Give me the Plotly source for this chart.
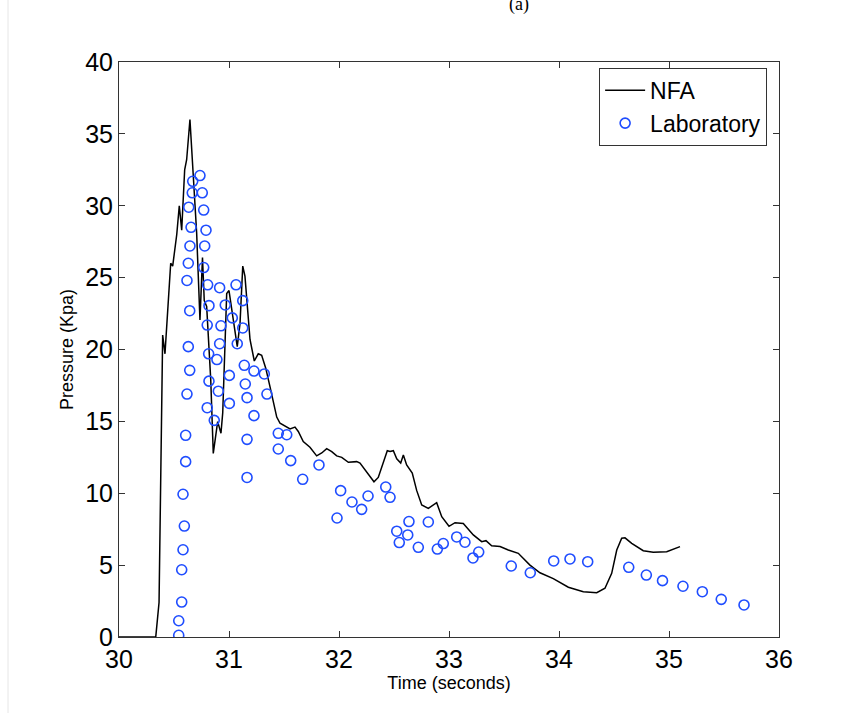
import plotly.graph_objects as go

# NFA simulated pressure (time in s, pressure in kPa)
nfa_t = [30.0, 30.334, 30.364, 30.379, 30.397, 30.418, 30.47, 30.488, 30.525, 30.548,
         30.57, 30.597, 30.615, 30.645, 30.67, 30.706, 30.736, 30.759, 30.775, 30.797,
         30.834, 30.857, 30.897, 30.927, 30.943, 30.979, 31.0, 31.039, 31.075, 31.1,
         31.125, 31.145, 31.191, 31.23, 31.266, 31.297, 31.334, 31.373, 31.434, 31.464,
         31.525, 31.555, 31.6, 31.63, 31.675, 31.736, 31.797, 31.843, 31.888, 31.934,
         31.979, 32.025, 32.085, 32.161, 32.191, 32.252, 32.318, 32.357, 32.403, 32.439,
         32.464, 32.494, 32.525, 32.561, 32.585, 32.615, 32.666, 32.706, 32.752, 32.812,
         32.888, 32.934, 33.0, 33.055, 33.13, 33.221, 33.297, 33.336, 33.388, 33.464,
         33.539, 33.63, 33.736, 33.827, 33.948, 34.085, 34.221, 34.343, 34.418, 34.479,
         34.525, 34.57, 34.6, 34.661, 34.766, 34.857, 34.979, 35.1]
nfa_p = [0.0, 0.0, 2.4, 13.0, 21.0, 19.7, 26.0, 25.8, 28.0, 30.0,
         28.3, 32.5, 33.2, 36.0, 32.7, 28.1, 22.05, 26.4, 23.4, 23.0,
         17.9, 12.77, 14.98, 14.17, 15.6, 23.9, 24.1, 22.05, 20.2, 21.8,
         25.8, 25.1, 20.7, 19.2, 19.7, 19.6, 18.7, 17.4, 15.3, 14.87,
         14.6, 14.47, 14.6, 14.3, 13.6, 13.2, 12.6, 12.8, 13.1, 12.9,
         12.6, 12.5, 12.15, 12.2, 12.1, 11.5, 10.8, 11.1, 12.1, 12.96,
         12.9, 12.96, 12.4, 12.1, 12.66, 11.97, 11.4, 10.2, 9.18, 8.95,
         9.34, 8.37, 7.7, 7.95, 7.9, 7.1, 6.63, 6.7, 6.35, 6.29,
         6.05, 5.82, 5.0, 4.47, 4.06, 3.46, 3.15, 3.08, 3.39, 4.43,
         6.05, 6.87, 6.9, 6.52, 6.0, 5.89, 5.93, 6.29]

# Laboratory measurements
lab_t = [30.543, 30.543, 30.570, 30.570, 30.582, 30.594, 30.582, 30.606, 30.606, 30.618,
         30.643, 30.630, 30.643, 30.618, 30.630, 30.645, 30.655, 30.634, 30.666, 30.670,
         30.736, 30.757, 30.770, 30.791, 30.779, 30.770, 30.806, 30.818, 30.802, 30.815,
         30.818, 30.802, 30.866, 30.903, 30.890, 30.915, 30.927, 30.966, 30.915, 31.064,
         31.030, 31.003, 31.003, 31.075, 31.125, 31.125, 31.139, 31.148, 31.164, 31.164,
         31.164, 31.227, 31.321, 31.227, 31.345, 31.448, 31.448, 31.525, 31.561, 31.670,
         31.818, 31.982, 32.015, 32.118, 32.206, 32.264, 32.425, 32.464, 32.525, 32.548,
         32.625, 32.636, 32.721, 32.812, 32.894, 32.948, 33.070, 33.145, 33.218, 33.270,
         33.566, 33.739, 33.952, 34.100, 34.261, 34.634, 34.794, 34.941, 35.127, 35.303,
         35.475, 35.682]
lab_p = [0.12, 1.13, 2.43, 4.68, 6.07, 7.72, 9.93, 12.2, 14.03, 16.9,
         18.55, 20.2, 22.7, 24.8, 26.0, 27.2, 28.5, 29.9, 30.9, 31.7,
         32.1, 30.9, 29.7, 28.3, 27.2, 25.7, 24.5, 23.05, 21.7, 19.7,
         17.8, 15.95, 15.07, 17.1, 19.3, 20.4, 21.65, 23.1, 24.3, 24.5,
         22.2, 18.2, 16.25, 20.4, 23.4, 21.5, 18.9, 17.6, 16.65, 13.75,
         11.1, 18.5, 18.3, 15.4, 16.9, 14.17, 13.08, 14.07, 12.27, 10.97,
         11.97, 8.28, 10.18, 9.39, 8.88, 9.81, 10.43, 9.72, 7.36, 6.57,
         7.1, 8.03, 6.24, 8.0, 6.12, 6.5, 6.96, 6.59, 5.5, 5.91,
         4.94, 4.47, 5.29, 5.43, 5.24, 4.85, 4.31, 3.92, 3.53, 3.15,
         2.62, 2.23]

x_ticks = [30, 31, 32, 33, 34, 35, 36]
y_ticks = [0, 5, 10, 15, 20, 25, 30, 35, 40]

FONT = "Liberation Sans, Arial, Helvetica, sans-serif"

fig = go.Figure()
fig.add_trace(go.Scatter(x=nfa_t, y=nfa_p, mode="lines", name="NFA",
                         line=dict(color="black", width=1.5)))
fig.add_trace(go.Scatter(x=lab_t, y=lab_p, mode="markers", name="Laboratory",
                         marker=dict(symbol="circle-open", size=10, color="#1f4dff",
                                     line=dict(width=1.6, color="#1f4dff"))))

axis_common = dict(showgrid=False, zeroline=False, showline=True, linecolor="#333333",
                   linewidth=1, mirror="ticks", ticks="inside", ticklen=6,
                   tickcolor="#333333", tickfont=dict(family=FONT, size=25, color="black"))

fig.update_layout(
    width=841, height=713,
    margin=dict(l=119, r=62, t=62, b=76),
    paper_bgcolor="white", plot_bgcolor="white",
    font=dict(family=FONT, color="black"),
    xaxis=dict(range=[30, 36], tickvals=x_ticks, ticktext=[str(v) for v in x_ticks],
               title=dict(text="Time (seconds)", font=dict(family=FONT, size=18), standoff=4),
               **axis_common),
    yaxis=dict(range=[0, 40], tickvals=y_ticks, ticktext=[str(v) for v in y_ticks],
               title=dict(text="Pressure (Kpa)", font=dict(family=FONT, size=18), standoff=6),
               **axis_common),
    legend=dict(x=0.982, y=0.99, xanchor="right", yanchor="top",
                bgcolor="white", bordercolor="#333333", borderwidth=1,
                font=dict(family=FONT, size=23), tracegroupgap=0,
                itemwidth=40),
    showlegend=True,
)

fig.add_annotation(text="(a)", xref="paper", yref="paper", x=0.606, y=1 + 70 / 575,
                   showarrow=False, font=dict(family="Liberation Serif, Times New Roman, serif", size=18))

fig.add_shape(type="line", xref="paper", yref="paper",
              x0=-111 / 660, x1=-111 / 660, y0=-76 / 575, y1=1 + 62 / 575,
              line=dict(color="#e6e6e6", width=1))

fig.write_html("out.html")
